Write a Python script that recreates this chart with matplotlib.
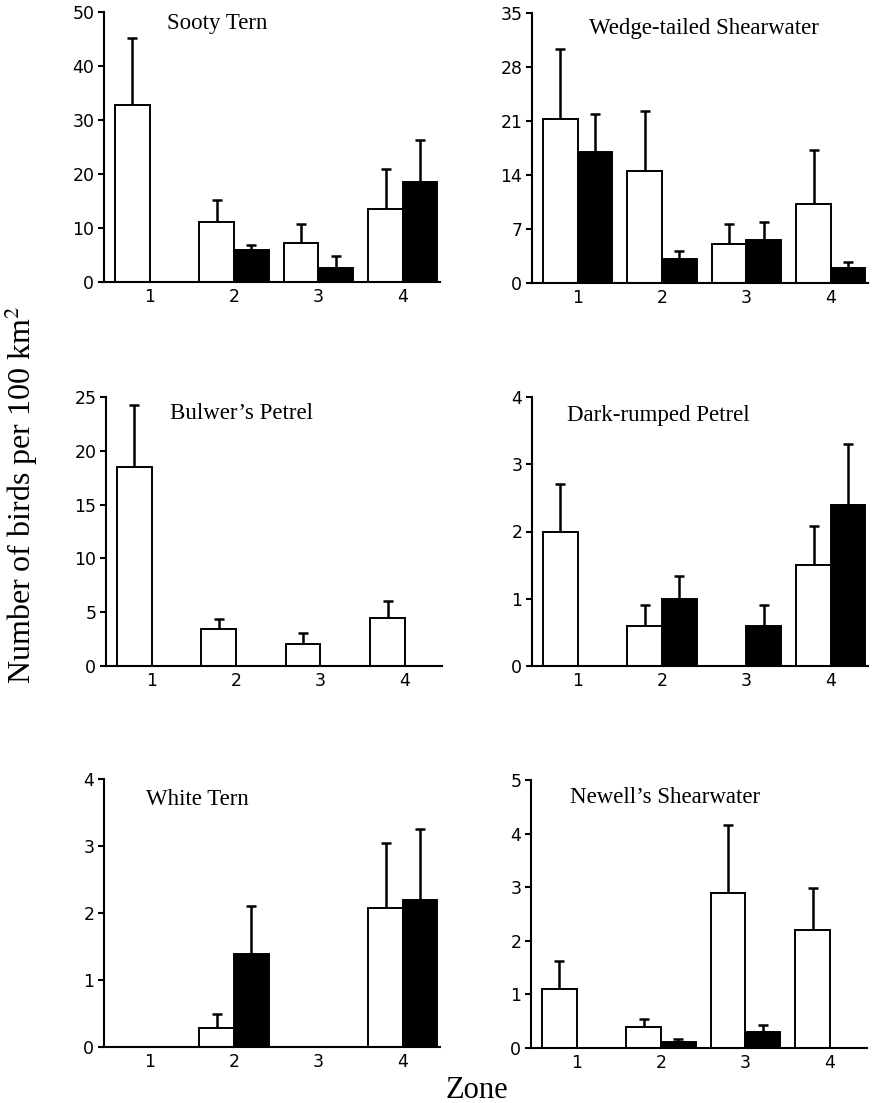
import numpy as np
import matplotlib
matplotlib.use("Agg")
import matplotlib.pyplot as plt

W, H = 878, 1103
nan = np.nan

zones = [1, 2, 3, 4]

# mean densities (open = first survey, filled = second survey); nan = no bar
sooty_open = [32.7, 11.2, 7.3, 13.5]
sooty_open_se = [12.5, 4.0, 3.4, 7.5]
sooty_fill = [nan, 5.9, 2.6, 18.6]
sooty_fill_se = [nan, 1.0, 2.3, 7.7]

wedge_open = [21.2, 14.5, 5.1, 10.3]
wedge_open_se = [9.1, 7.8, 2.6, 7.0]
wedge_fill = [17.0, 3.1, 5.6, 1.95]
wedge_fill_se = [4.9, 1.1, 2.3, 0.75]

bulwer_open = [18.5, 3.45, 2.05, 4.45]
bulwer_open_se = [5.8, 0.95, 1.0, 1.55]
bulwer_fill = [nan, nan, nan, nan]
bulwer_fill_se = [nan, nan, nan, nan]

dark_open = [2.0, 0.6, nan, 1.5]
dark_open_se = [0.7, 0.3, nan, 0.58]
dark_fill = [nan, 1.0, 0.6, 2.4]
dark_fill_se = [nan, 0.34, 0.3, 0.9]

white_open = [nan, 0.29, nan, 2.08]
white_open_se = [nan, 0.21, nan, 0.96]
white_fill = [nan, 1.39, nan, 2.19]
white_fill_se = [nan, 0.72, nan, 1.07]

newell_open = [1.11, 0.40, 2.90, 2.20]
newell_open_se = [0.52, 0.14, 1.26, 0.79]
newell_fill = [nan, 0.105, 0.30, nan]
newell_fill_se = [nan, 0.055, 0.12, nan]

panels = [
    ("Sooty Tern", sooty_open, sooty_open_se, sooty_fill, sooty_fill_se,
     np.arange(0, 51, 10), (167, 29)),
    ("Wedge-tailed Shearwater", wedge_open, wedge_open_se, wedge_fill, wedge_fill_se,
     np.arange(0, 36, 7), (589, 34)),
    ("Bulwer\u2019s Petrel", bulwer_open, bulwer_open_se, bulwer_fill, bulwer_fill_se,
     np.arange(0, 26, 5), (170, 419)),
    ("Dark-rumped Petrel", dark_open, dark_open_se, dark_fill, dark_fill_se,
     np.arange(0, 5, 1), (567, 421)),
    ("White Tern", white_open, white_open_se, white_fill, white_fill_se,
     np.arange(0, 5, 1), (146, 805)),
    ("Newell\u2019s Shearwater", newell_open, newell_open_se, newell_fill, newell_fill_se,
     np.arange(0, 6, 1), (570, 803)),
]

# axes boxes in pixels: (left, top, right, bottom)
boxes = [(104, 12, 440, 282), (532, 13, 868, 283),
         (106, 397, 442, 666), (532, 397, 868, 666),
         (104, 779, 440, 1047), (531, 780, 867, 1048)]

serif = ["Liberation Serif", "DejaVu Serif"]
fig = plt.figure(figsize=(W / 100, H / 100), dpi=100)

bw = 0.41
x = np.array(zones, dtype=float)
for (title, wo, wose, fi, fise, yt, tpos), (l, t, r, b) in zip(panels, boxes):
    ax = fig.add_axes([l / W, 1 - b / H, (r - l) / W, (b - t) / H])
    wo, wose, fi, fise = map(np.array, (wo, wose, fi, fise))
    xo, xf = x - bw / 2, x + bw / 2
    ax.bar(xo, np.nan_to_num(wo), bw, color="white", edgecolor="black",
           linewidth=1.4, zorder=2)
    m = ~np.isnan(fi)
    ax.bar(xf[m], fi[m], bw, color="black", edgecolor="black",
           linewidth=1.4, zorder=2)
    for xs, v, e in ((xo, wo, wose), (xf, fi, fise)):
        k = ~np.isnan(e)
        ax.errorbar(xs[k], v[k], yerr=[np.zeros(k.sum()), e[k]], fmt="none",
                    ecolor="black", elinewidth=1.8, capsize=3.5, capthick=1.8,
                    zorder=1)
    ax.set_xlim(0.46, 4.44)
    ax.set_ylim(0, yt[-1])
    ax.set_yticks(yt)
    ax.set_xticks(x)
    ax.set_xticklabels([str(z) for z in zones])
    for s in ("top", "right"):
        ax.spines[s].set_visible(False)
    for s in ("left", "bottom"):
        ax.spines[s].set_linewidth(1.5)
    ax.tick_params(axis="y", length=4, width=1.5, labelsize=12.5, pad=3)
    ax.tick_params(axis="x", length=0, labelsize=12.5, pad=4)
    fig.text(tpos[0] / W, 1 - tpos[1] / H, title, family=serif, fontsize=16.5,
             ha="left", va="baseline")

fig.text(21 / W, 1 - 495 / H, "Number of birds per 100 km$^2$", family=serif,
         fontsize=23, rotation=90, ha="center", va="center",
         math_fontfamily="stix")
fig.text(477 / W, 1 - 1098 / H, "Zone", family=serif, fontsize=22,
         ha="center", va="baseline")

fig.savefig("out.png", dpi=100)
